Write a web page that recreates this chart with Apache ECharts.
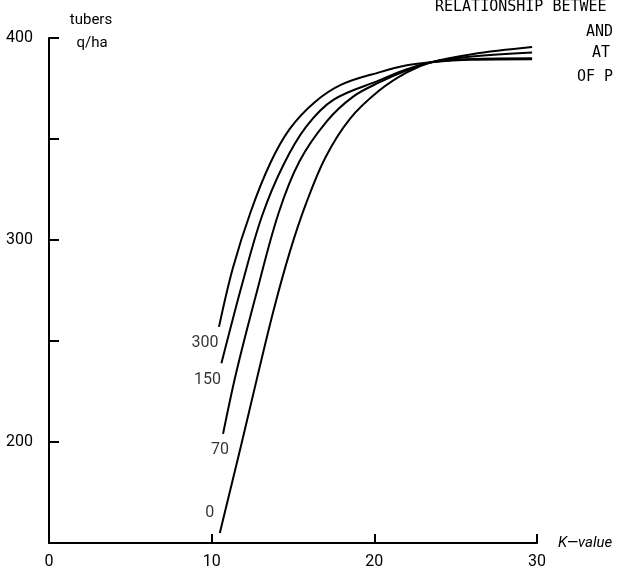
<!DOCTYPE html>
<html>
<head>
<meta charset="utf-8">
<script src="https://cdn.jsdelivr.net/npm/echarts@6/dist/echarts.min.js"></script>
<style>
  html, body { margin: 0; padding: 0; background: #fff; }
  #chart { width: 618px; height: 572px; }
</style>
</head>
<body>
<div id="chart"></div>
<script>
// yield (q/ha) against K-value, one curve per P level
const curve0 = [[10.5, 155], [11.8, 198], [12.8, 232], [13.8, 265], [14.8, 294],
  [15.8, 318], [17.0, 341], [18.5, 360], [20.3, 374], [22.0, 383], [23.5, 388],
  [26.0, 392], [29.7, 395.5]];
const curve70 = [[10.7, 204], [11.5, 234], [12.7, 272], [14.1, 313], [15.4, 339],
  [17.1, 359], [18.7, 371], [20.3, 378], [22.0, 384], [23.5, 388], [26.0, 390.8],
  [29.7, 392.8]];
const curve150 = [[10.6, 239], [11.9, 279], [13.1, 312], [14.4, 337], [15.8, 356],
  [17.5, 369.5], [20.3, 379], [22.0, 384.5], [23.5, 388], [26.0, 389.6], [29.7, 390]];
const curve300 = [[10.45, 257], [11.3, 286], [12.4, 314], [13.6, 338], [14.8, 355],
  [16.3, 368], [18.0, 377], [20.3, 383], [22.0, 386.5], [23.5, 388], [26.0, 389.2],
  [29.7, 389.5]];

const curveNames = ['0', '70', '150', '300'];
const curves = [curve0, curve70, curve150, curve300];
const yTickLabels = [200, 300, 400];
const yNameLines = ['tubers', 'q/ha'];
const titleLines = ['RELATIONSHIP BETWEE', 'AND', 'AT', 'OF P'];

const FONT = 'Roboto, "DejaVu Sans", sans-serif';
const INK = '#000';

// label offsets next to the lower end of each curve
const labelOffsets = [[-10, -20], [-3, 16], [-14, 17], [-14, 16]];

const chart = echarts.init(document.getElementById('chart'));

const lineSeries = curves.map((c, i) => ({
  name: curveNames[i],
  type: 'line',
  data: c,
  smooth: 0.35,
  showSymbol: false,
  lineStyle: { color: INK, width: 2 },
  silent: true,
}));

const labelSeries = curves.map((c, i) => ({
  type: 'scatter',
  data: [c[0]],
  symbolSize: 1,
  itemStyle: { color: 'rgba(0,0,0,0)' },
  silent: true,
  label: {
    show: true,
    position: 'inside',
    offset: labelOffsets[i],
    formatter: curveNames[i],
    color: INK,
    fontFamily: FONT,
    fontSize: 16,
  },
}));

const titlePos = [[435, 7], [586, 32], [592, 53], [577, 77]];
const graphics = titleLines.map((t, i) => ({
  type: 'text',
  x: titlePos[i][0],
  y: titlePos[i][1],
  style: {
    text: t,
    font: '15px "DejaVu Sans Mono", monospace',
    fill: INK,
    verticalAlign: 'middle',
  },
})).concat(yNameLines.map((t, i) => ({
  type: 'text',
  x: i === 0 ? 91 : 92,
  y: i === 0 ? 20 : 43,
  style: {
    text: t,
    font: '15px ' + FONT,
    fill: INK,
    align: 'center',
    verticalAlign: 'middle',
  },
})));

chart.setOption({
  animation: false,
  backgroundColor: '#fff',
  grid: { left: 49, right: 81, top: 38, bottom: 29 },
  xAxis: {
    type: 'value',
    min: 0,
    max: 30,
    interval: 10,
    name: 'K\u2014value',
    nameLocation: 'end',
    nameGap: 21,
    nameTextStyle: { color: INK, fontFamily: FONT, fontSize: 15, fontStyle: 'italic' },
    axisLine: { lineStyle: { color: INK, width: 2 } },
    axisTick: { inside: true, length: 9, lineStyle: { color: INK, width: 2 } },
    axisLabel: { color: INK, fontFamily: FONT, fontSize: 16, margin: 11 },
    splitLine: { show: false },
  },
  yAxis: {
    type: 'value',
    min: 150,
    max: 400,
    interval: 50,
    axisLine: { show: true, lineStyle: { color: INK, width: 2 } },
    axisTick: { show: true, inside: true, length: 10, lineStyle: { color: INK, width: 2 } },
    axisLabel: {
      color: INK,
      fontFamily: FONT,
      fontSize: 16,
      margin: 16,
      formatter: (v) => (yTickLabels.includes(v) ? String(v) : ''),
    },
    splitLine: { show: false },
  },
  graphic: graphics,
  series: lineSeries.concat(labelSeries),
});
</script>
</body>
</html>
